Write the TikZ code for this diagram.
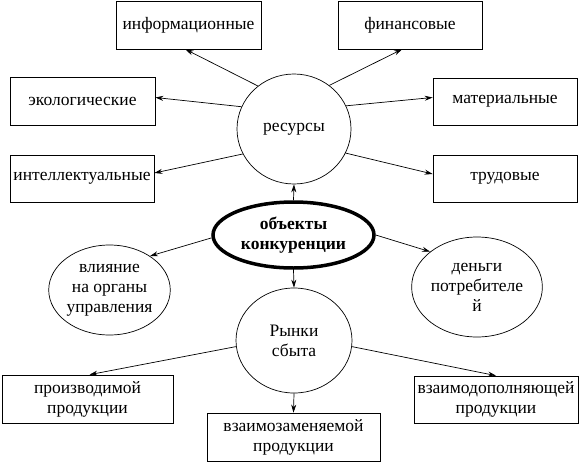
\documentclass[tikz,border=0pt]{standalone}
\usepackage{fontspec}
\setmainfont{Liberation Serif}
\usetikzlibrary{shapes.geometric,arrows.meta}
\begin{document}
\begin{tikzpicture}[x=1pt,y=-1pt,
  every node/.style={font=\fontsize{17.5}{20}\selectfont},
  box/.style={draw, rectangle, line width=0.7pt, inner sep=0pt, align=center},
  ell/.style={draw, ellipse, line width=0.7pt, inner sep=0pt, align=center},
  arr/.style={line width=0.7pt, -{Stealth[length=8pt,width=5pt]}}]
\useasboundingbox (0,0) rectangle (588,463);
% boxes
\node[box, minimum width=145pt, minimum height=48pt] (info) at (188.5,25) {информационные};
\node[box, minimum width=144pt, minimum height=48pt] (fin) at (410,25) {финансовые};
\node[box, minimum width=145pt, minimum height=48pt] (eco) at (82.5,101.5) {экологические};
\node[box, minimum width=144pt, minimum height=47pt] (mat) at (505,101.5) {материальные};
\node[box, minimum width=144pt, minimum height=47pt] (intel) at (82,178.5) {интеллектуальные};
\node[box, minimum width=144pt, minimum height=47pt] (trud) at (505,178.5) {трудовые};
\node[box, minimum width=171pt, minimum height=48pt] (proizv) at (87.5,399) {производимой\\продукции};
\node[box, minimum width=173pt, minimum height=48pt] (zam) at (293.5,437) {взаимозаменяемой\\продукции};
\node[box, minimum width=164pt, minimum height=47pt] (dop) at (496,399.5) {взаимодополняющей\\продукции};
% ellipses
\node[ell, minimum width=114pt, minimum height=110pt] (res) at (294,129) {ресурсы};
\node[ell, line width=3.5pt, minimum width=161pt, minimum height=66pt, font=\fontsize{17.5}{20}\selectfont\bfseries] (obj) at (293.5,235) {объекты\\конкуренции};
\node[ell, minimum width=115pt, minimum height=90pt] (vliy) at (109.5,290) {влияние\\на органы\\управления};
\node[ell, minimum width=118pt, minimum height=100pt] (den) at (477,287) {деньги\\потребителе\\й};
\node[ell, minimum width=116pt, minimum height=105pt] (ryn) at (294,340.5) {Рынки\\сбыта};
% connectors
\draw[arr] (res.130) -- ([xshift=-3pt]info.south);
\draw[arr] (res.51) -- ([xshift=-8pt]fin.south);
\draw[arr] (res.157) -- ([yshift=4pt]eco.east);
\draw[arr] (res.206) -- ([yshift=5.5pt]intel.east);
\draw[arr] (res.24) -- ([yshift=4pt]mat.west);
\draw[arr] (res.335) -- ([yshift=4.5pt]trud.west);
\draw[arr] (obj.north) -- (res.south);
\draw[arr] (obj.south) -- (ryn.north);
\draw[arr] (obj.182) -- (vliy.40);
\draw[arr] (obj.0) -- (den.143);
\draw[arr] (ryn.186) -- ([xshift=2pt]proizv.north);
\draw[arr] (ryn.south) -- (zam.north);
\draw[arr] (ryn.354) -- (dop.north);
\end{tikzpicture}
\end{document}
